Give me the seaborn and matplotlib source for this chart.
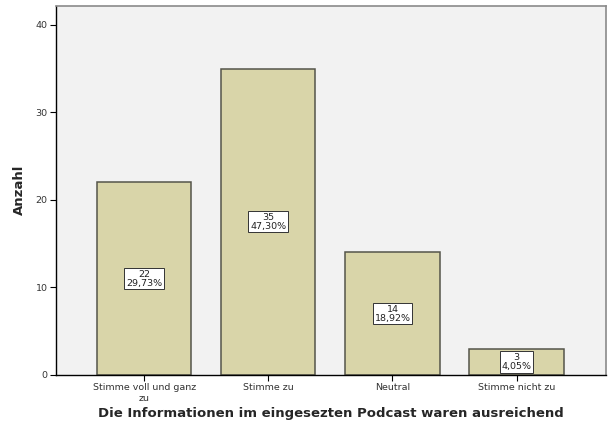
import matplotlib
matplotlib.use("Agg")
import matplotlib.pyplot as plt
import seaborn as sns
import pandas as pd

categories = ["Stimme voll und ganz\nzu", "Stimme zu", "Neutral", "Stimme nicht zu"]
counts = [22, 35, 14, 3]
percents = ["29,73%", "47,30%", "18,92%", "4,05%"]
yticks = [0, 10, 20, 30, 40]

sns.set_theme(style="white")
plt.rcParams["font.family"] = ["DejaVu Sans"]

df = pd.DataFrame({"Kategorie": categories, "Anzahl": counts})

fig = plt.figure(figsize=(6.08, 4.26), dpi=100)
ax = fig.add_axes([56 / 608, 1 - 375 / 426, 550 / 608, 369.5 / 426])
ax.set_facecolor("#F2F2F2")

sns.barplot(data=df, x="Kategorie", y="Anzahl", color="#D9D5A9", saturation=1,
            width=0.76, edgecolor="#55554a", linewidth=1.1, ax=ax)

ax.set_xlim(-0.71, 3.72)
ax.set_ylim(0, 42.2)
ax.set_yticks(yticks)
ax.tick_params(axis="both", which="both", length=4, width=0.8, color="black",
               labelsize=6.8, pad=2, direction="out", labelcolor="#333333")
ax.tick_params(axis="x", bottom=True)
ax.tick_params(axis="y", left=True)

for side in ["top", "right"]:
    ax.spines[side].set_color("#8a8a8a")
    ax.spines[side].set_linewidth(1.2)
for side in ["left", "bottom"]:
    ax.spines[side].set_color("black")
    ax.spines[side].set_linewidth(1.0)

for i, (c, p) in enumerate(zip(counts, percents)):
    ax.text(i, c / 2, f"{c}\n{p}", ha="center", va="center", fontsize=6.8,
            linespacing=0.95, color="#222222",
            bbox=dict(boxstyle="square,pad=0.2", fc="white", ec="#333333", lw=0.7))

ax.set_ylabel("Anzahl", fontsize=9.5, fontweight="bold", labelpad=7)
ax.set_xlabel("Die Informationen im eingesezten Podcast waren ausreichend",
              fontsize=9.5, fontweight="bold", labelpad=3)

fig.savefig("out.png", dpi=100)
